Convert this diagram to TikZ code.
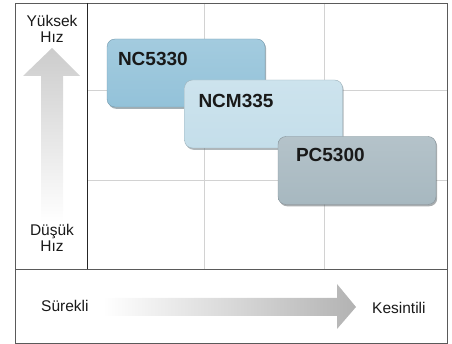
\documentclass[tikz,border=0pt]{standalone}
\usepackage{fontspec}
\setmainfont{Liberation Sans}
\usetikzlibrary{shadows,positioning}

\definecolor{ncblue}{HTML}{93C2D9}
\definecolor{ncmblue}{HTML}{C4DEEA}
\definecolor{pcgray}{HTML}{A7B8C0}
\definecolor{framegray}{HTML}{5A5A5A}

\begin{document}
\begin{tikzpicture}[
    x=1pt, y=-1pt,
    axislbl/.style={font=\fontsize{15.5}{16.5}\selectfont, align=center, inner sep=0pt, text=black!90},
    prodbox/.style={draw=#1!80!black, line width=0.4pt, top color=#1!85!white, bottom color=#1,
      rounded corners=8pt, minimum width=158pt, minimum height=68pt, inner sep=0pt,
      drop shadow={shadow xshift=1.2pt, shadow yshift=-1.8pt, opacity=.5, fill=#1!50!black}},
    prodlbl/.style={font=\fontsize{19}{20}\selectfont\bfseries, text=black!90, inner sep=0pt, anchor=base west},
    gridline/.style={gray!35, line width=0.6pt}
  ]
    \useasboundingbox (0,0) rectangle (452,344);
    \foreach \x in {204,324}
      \draw[gridline] (\x,3) -- (\x,269);
    \foreach \y in {90,180}
      \draw[gridline] (87,\y) -- (447,\y);
    \foreach \n/\cx/\cy/\c/\dx/\dy/\t in {nc/186/73/ncblue/11/27/NC5330,ncm/263.5/114/ncmblue/14/28/NCM335,pc/357/170.5/pcgray/18/25/PC5300}{
      \node[prodbox=\c] (\n) at (\cx,\cy) {};
      \node[prodlbl] (\n-lbl) at ([shift={(\dx,\dy)}]\n.north west) {\t};
    }
    \shade[top color=gray!40, bottom color=white] (41,222) -- (41,76) -- (23,76) -- (52,48) -- (80,76) -- (63,76) -- (63,222) -- cycle;
    \shade[left color=white, right color=gray!60] (103,298) -- (337,298) -- (337,284) -- (356,307) -- (337,329) -- (337,316) -- (103,316) -- cycle;
    \node[axislbl] (fast) at (52,29) {Yüksek\\Hız};
    \node[axislbl] (slow) at (52,238) {Düşük\\Hız};
    \node[axislbl, anchor=base west] (cont) at (41,312) {Sürekli};
    \node[axislbl, anchor=base west] (intr) at (372,313) {Kesintili};
    \draw[framegray, line width=0.8pt] (15,3) rectangle (447,343);
    \draw[framegray, line width=0.8pt] (15,269) -- (447,269);
    \draw[black!85, line width=0.7pt] (87,3) -- (87,269);
\end{tikzpicture}
\end{document}
